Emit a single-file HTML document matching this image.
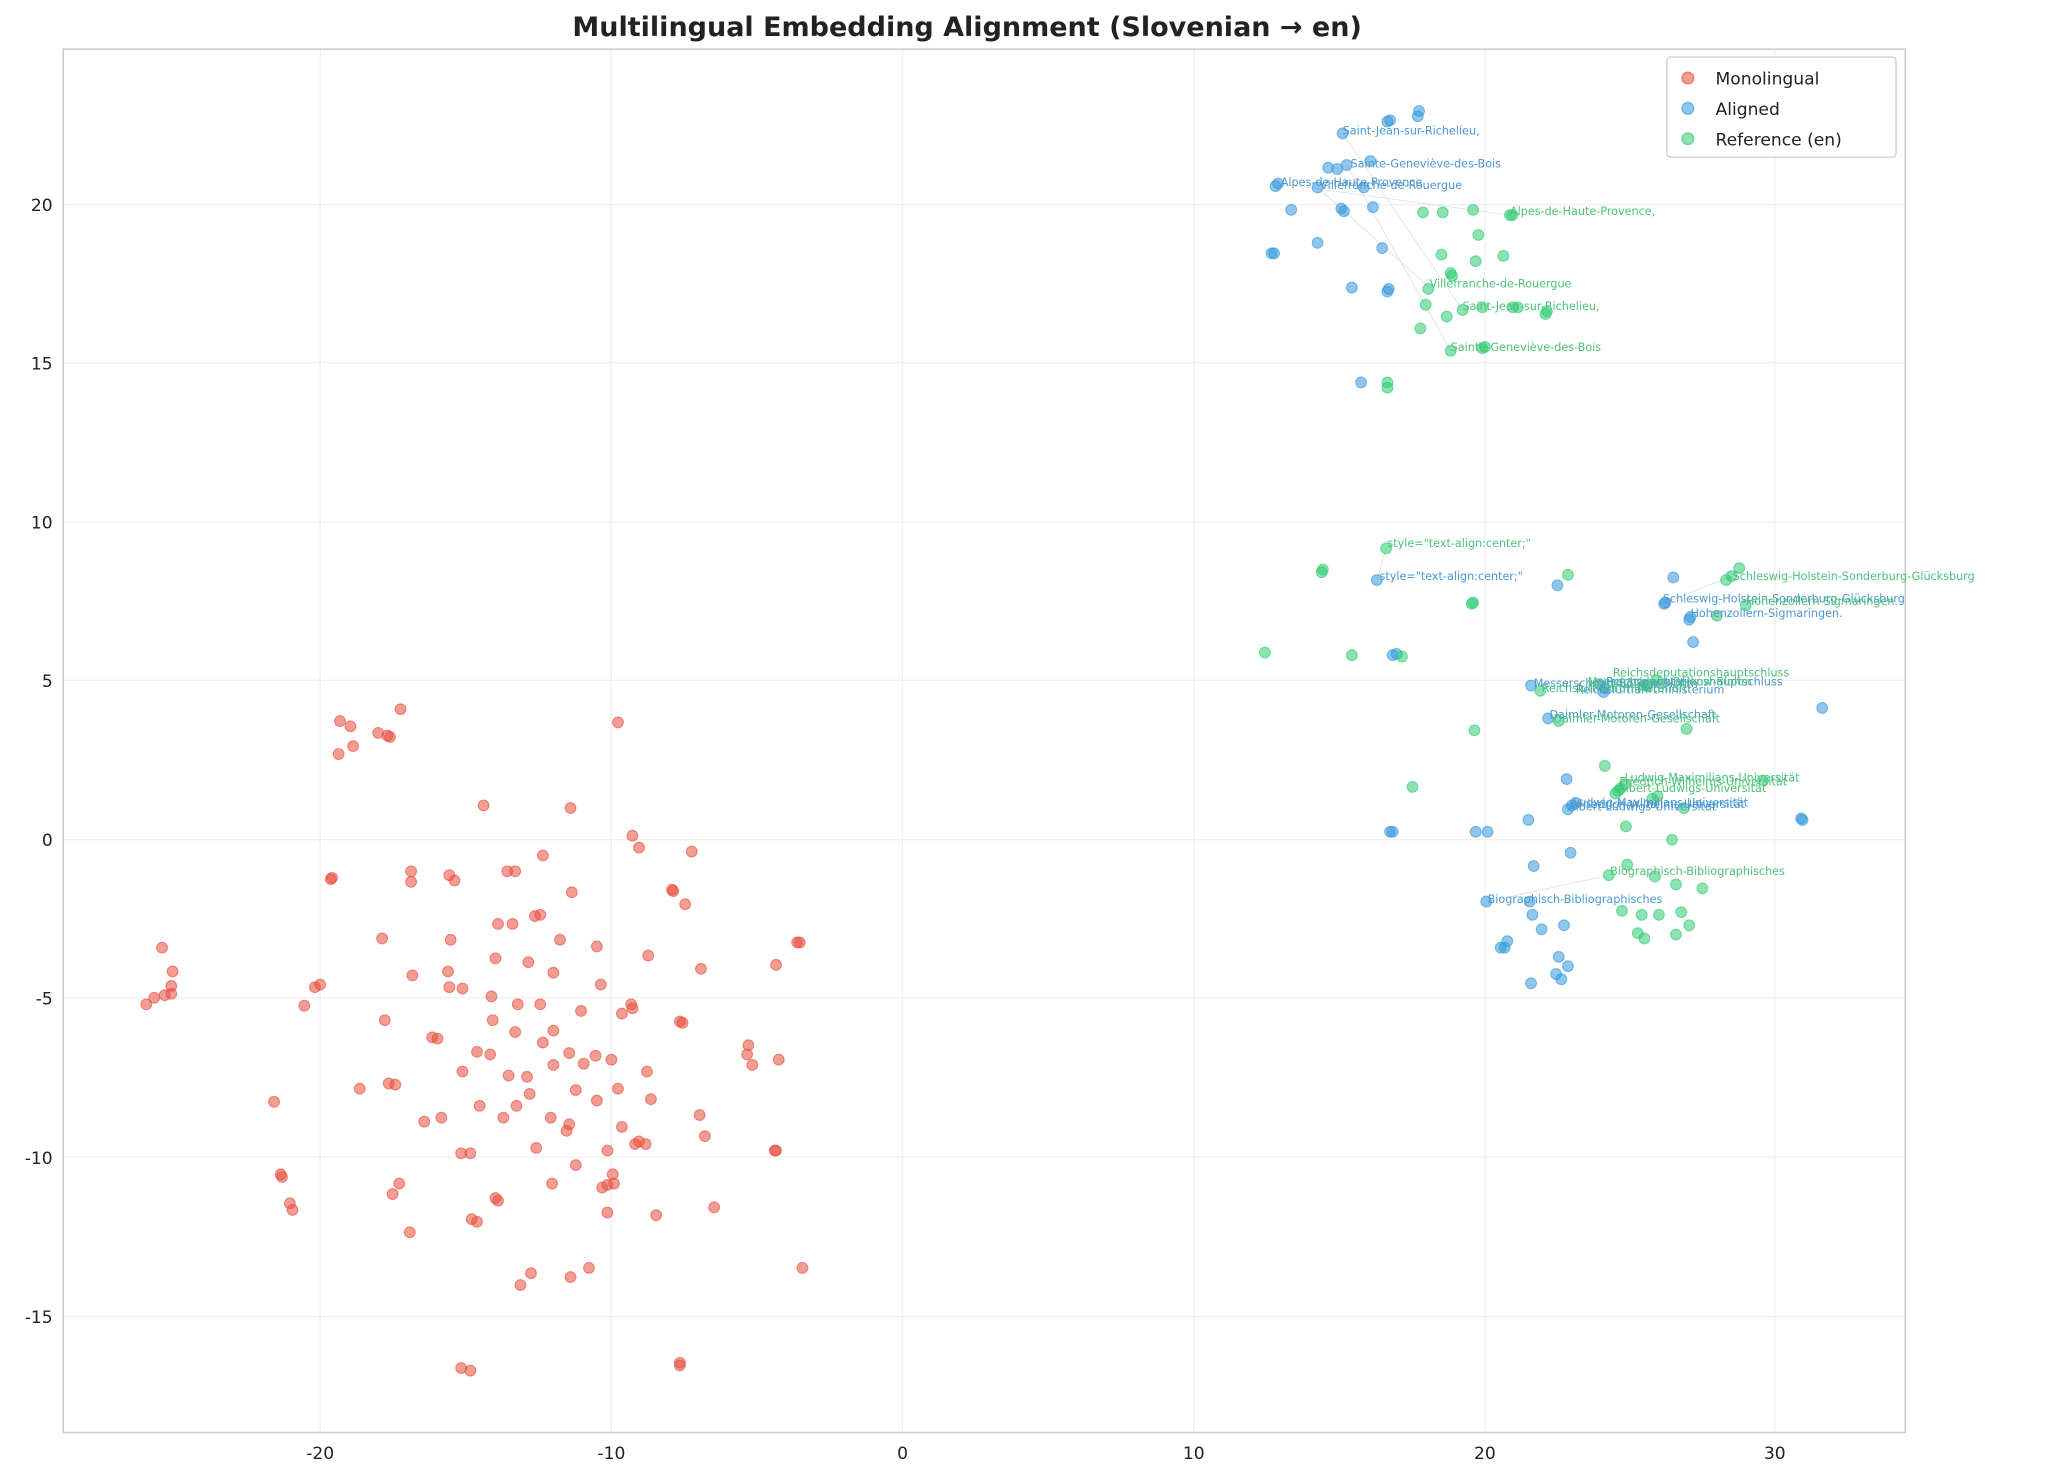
<!DOCTYPE html>
<html><head><meta charset="utf-8"><style>
html,body{margin:0;padding:0;background:#fff}
svg{display:block}
text{font-family:"DejaVu Sans","Liberation Sans",sans-serif}
</style></head><body>
<svg width="2066" height="1483" viewBox="0 0 1568 1125" xmlns="http://www.w3.org/2000/svg">
<rect width="1568" height="1125" fill="#fff"/>
<text x="734" y="27" text-anchor="middle" font-size="20.5" font-weight="bold" fill="#222">Multilingual Embedding Alignment (Slovenian → en)</text>
<g stroke="#f0f0f0" stroke-width="1">
<line x1="243" y1="37" x2="243" y2="1087"/><line x1="464" y1="37" x2="464" y2="1087"/><line x1="685" y1="37" x2="685" y2="1087"/><line x1="906" y1="37" x2="906" y2="1087"/><line x1="1127" y1="37" x2="1127" y2="1087"/><line x1="1347" y1="37" x2="1347" y2="1087"/>
<line x1="48" y1="155" x2="1446" y2="155"/><line x1="48" y1="275" x2="1446" y2="275"/><line x1="48" y1="396" x2="1446" y2="396"/><line x1="48" y1="516" x2="1446" y2="516"/><line x1="48" y1="637" x2="1446" y2="637"/><line x1="48" y1="757" x2="1446" y2="757"/><line x1="48" y1="878" x2="1446" y2="878"/><line x1="48" y1="999" x2="1446" y2="999"/>
</g>
<rect x="48" y="37" width="1398" height="1050" fill="none" stroke="#ccc" stroke-width="1.2"/>
<g font-size="13" fill="#222" text-anchor="middle">
<text x="243" y="1107">-20</text><text x="464" y="1107">-10</text><text x="685" y="1107">0</text><text x="906" y="1107">10</text><text x="1127" y="1107">20</text><text x="1347" y="1107">30</text>
</g>
<g font-size="13" fill="#222" text-anchor="end">
<text x="40" y="160">20</text><text x="40" y="280">15</text><text x="40" y="401">10</text><text x="40" y="521">5</text><text x="40" y="642">0</text><text x="40" y="762">-5</text><text x="40" y="883">-10</text><text x="40" y="1004">-15</text>
</g>
<g stroke="#bbb" stroke-width="0.6" opacity="0.5">
<line x1="1019" y1="101" x2="1110" y2="235"/><line x1="1022" y1="125" x2="1101" y2="266"/><line x1="970" y1="139" x2="1146" y2="163"/><line x1="1000" y1="142" x2="1085" y2="218"/><line x1="1045" y1="440" x2="1052" y2="416"/><line x1="1264" y1="457" x2="1314" y2="437"/><line x1="1283" y1="468" x2="1303" y2="467"/><line x1="1129" y1="684" x2="1221" y2="664"/>
</g>
<g fill="#e74c3c" fill-opacity="0.55" stroke="#e74c3c" stroke-opacity="0.6" stroke-width="0.8" id="r"></g>
<g fill="#3498db" fill-opacity="0.55" stroke="#3498db" stroke-opacity="0.6" stroke-width="0.8" id="b"></g>
<g fill="#2ecc71" fill-opacity="0.55" stroke="#2ecc71" stroke-opacity="0.6" stroke-width="0.8" id="g"></g>
<g font-size="8.5" fill="#4a98d2">
<text x="1019" y="102">Saint-Jean-sur-Richelieu,</text>
<text x="1025" y="127">Sainte-Geneviève-des-Bois</text>
<text x="972" y="141">Alpes-de-Haute-Provence</text>
<text x="1002" y="143">Villefranche-de-Rouergue</text>
<text x="1047" y="440">style="text-align:center;"</text>
<text x="1262" y="457">Schleswig-Holstein-Sonderburg-Glücksburg</text>
<text x="1283" y="468">Hohenzollern-Sigmaringen.</text>
<text x="1164" y="521">Messerschmitt-Bölkow-Blohm</text>
<text x="1219" y="520">Reichsdeputationshauptschluss</text>
<text x="1196" y="526">Reichsluftfahrtministerium</text>
<text x="1176" y="545">Daimler-Motoren-Gesellschaft</text>
<text x="1194" y="612">Ludwig-Maximilians-Universität</text>
<text x="1197" y="613">Friedrich-Wilhelms-Universität</text>
<text x="1190" y="615">Albert-Ludwigs-Universität</text>
<text x="1129" y="685">Biographisch-Bibliographisches</text>
</g>
<g font-size="8.5" fill="#4cc27a">
<text x="1146" y="163">Alpes-de-Haute-Provence,</text>
<text x="1085" y="218">Villefranche-de-Rouergue</text>
<text x="1110" y="235">Saint-Jean-sur-Richelieu,</text>
<text x="1101" y="266">Sainte-Geneviève-des-Bois</text>
<text x="1053" y="415">style="text-align:center;"</text>
<text x="1315" y="440">Schleswig-Holstein-Sonderburg-Glücksburg</text>
<text x="1325" y="459">Hohenzollern-Sigmaringen.</text>
<text x="1224" y="513">Reichsdeputationshauptschluss</text>
<text x="1205" y="520">Messerschmitt-Bölkow-Blohm</text>
<text x="1170" y="525">Reichsluftfahrtministerium</text>
<text x="1179" y="548">Daimler-Motoren-Gesellschaft</text>
<text x="1233" y="593">Ludwig-Maximilians-Universität</text>
<text x="1229" y="596">Friedrich-Wilhelms-Universität</text>
<text x="1228" y="601">Albert-Ludwigs-Universität</text>
<text x="1222" y="664">Biographisch-Bibliographisches</text>
</g>
<rect x="1265" y="43" width="174" height="76" rx="3" fill="#fff" fill-opacity="0.85" stroke="#ccc"/>
<circle cx="1281" cy="59" r="4.5" fill="#e74c3c" fill-opacity="0.55" stroke="#e74c3c" stroke-opacity="0.6"/>
<circle cx="1281" cy="82" r="4.5" fill="#3498db" fill-opacity="0.55" stroke="#3498db" stroke-opacity="0.6"/>
<circle cx="1281" cy="105" r="4.5" fill="#2ecc71" fill-opacity="0.55" stroke="#2ecc71" stroke-opacity="0.6"/>
<g font-size="13" fill="#222"><text x="1302" y="64">Monolingual</text><text x="1302" y="87">Aligned</text><text x="1302" y="110">Reference (en)</text></g>
</svg>
<script>
const R=[[111,762],[117,757],[123,719],[125,755],[130,754],[131,737],[130,748],[258,547],[266,551],[268,566],[257,572],[287,556],[304,538],[296,559],[294,558],[251,667],[252,666],[243,747],[239,749],[231,763],[208,836],[213,891],[214,893],[220,913],[222,918],[312,669],[290,712],[312,661],[341,664],[345,668],[385,661],[391,661],[412,649],[434,677],[469,548],[367,611],[433,613],[480,634],[485,643],[525,646],[520,686],[511,676],[510,675],[406,695],[378,701],[389,701],[410,694],[376,727],[342,713],[425,713],[453,718],[492,725],[532,735],[589,732],[605,715],[607,715],[340,737],[341,749],[313,740],[292,774],[373,756],[401,730],[420,738],[456,747],[441,767],[472,769],[479,762],[480,765],[516,775],[518,776],[410,762],[393,762],[391,783],[374,774],[351,750],[295,822],[300,823],[273,826],[322,851],[328,787],[332,788],[362,798],[351,813],[386,816],[372,800],[400,817],[402,830],[412,791],[420,782],[420,808],[432,799],[437,827],[452,801],[464,804],[453,835],[432,853],[430,858],[443,807],[469,826],[472,855],[491,813],[494,834],[531,846],[535,862],[482,868],[485,866],[461,873],[490,868],[568,793],[567,800],[571,808],[591,804],[589,873],[588,873],[335,848],[382,848],[407,871],[418,848],[392,839],[364,839],[357,875],[437,884],[466,898],[461,899],[457,901],[376,909],[378,911],[419,898],[358,925],[311,935],[303,898],[298,906],[362,927],[403,966],[395,975],[433,969],[447,962],[461,920],[498,922],[542,916],[609,962],[350,1038],[357,1040],[516,1034],[516,1036],[465,891],[350,875]];
const B=[[1077,84],[1076,88],[1055,91],[1053,92],[1019,101],[1008,127],[1015,128],[1022,125],[1040,122],[970,139],[968,141],[1000,142],[1035,142],[980,159],[1018,158],[1020,160],[1042,157],[967,192],[965,192],[1000,184],[1049,188],[1026,218],[1054,219],[1053,221],[1033,290],[1045,440],[1182,444],[1270,438],[1264,457],[1263,458],[1283,468],[1282,470],[1285,487],[1383,537],[1162,520],[1175,545],[1217,525],[1218,522],[1214,519],[1189,591],[1160,622],[1129,631],[1057,631],[1055,631],[1120,631],[1190,614],[1193,611],[1196,609],[1192,647],[1164,657],[1128,684],[1161,684],[1163,694],[1170,705],[1187,702],[1144,714],[1142,719],[1139,719],[1183,726],[1181,739],[1185,743],[1162,746],[1190,733],[1367,621],[1368,622],[1057,497],[1060,496]];
const G=[[1080,161],[1095,161],[1118,159],[1148,163],[1146,163],[1122,178],[1094,193],[1101,207],[1102,209],[1141,194],[1120,198],[1084,219],[1082,231],[1098,240],[1110,235],[1125,233],[1148,233],[1152,233],[1173,238],[1174,236],[1078,249],[1101,266],[1125,264],[1127,263],[1053,290],[1053,294],[1052,416],[1004,432],[1003,434],[1190,436],[1118,457],[1117,458],[960,495],[1026,497],[1064,498],[1169,524],[1183,547],[1248,520],[1257,516],[1250,520],[1280,553],[1119,554],[1072,597],[1218,581],[1228,600],[1230,598],[1233,595],[1226,602],[1254,606],[1258,604],[1278,613],[1338,592],[1320,431],[1310,440],[1314,437],[1325,459],[1303,467],[1234,627],[1269,637],[1221,664],[1235,656],[1256,665],[1272,671],[1292,674],[1282,702],[1246,694],[1231,691],[1259,694],[1276,692],[1243,708],[1248,712],[1272,709]];
const NS="http://www.w3.org/2000/svg";
[["r",R],["b",B],["g",G]].forEach(([id,pts])=>{const g=document.getElementById(id);pts.forEach(p=>{const c=document.createElementNS(NS,"circle");c.setAttribute("cx",p[0]);c.setAttribute("cy",p[1]);c.setAttribute("r",4.1);g.appendChild(c);});});
</script>
</body></html>
